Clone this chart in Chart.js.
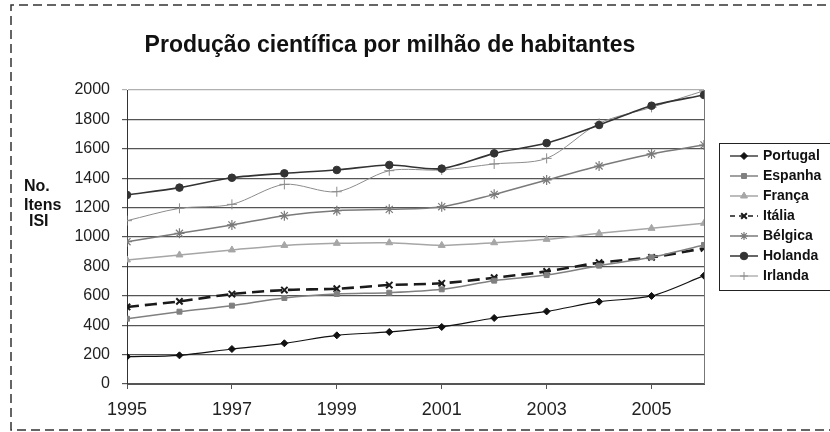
<!DOCTYPE html>
<html>
<head>
<meta charset="utf-8">
<script src="https://cdn.jsdelivr.net/npm/chart.js@4/dist/chart.umd.min.js"></script>
<style>
  html, body { margin: 0; background: #fff; }
  #wrap { width: 830px; height: 432px; }
</style>
</head>
<body>
<div id="wrap"><canvas id="chart" width="830" height="432"></canvas></div>
<script>
const years = [1995, 1996, 1997, 1998, 1999, 2000, 2001, 2002, 2003, 2004, 2005, 2006];
const xTickYears = [1995, 1997, 1999, 2001, 2003, 2005];

const portugal = [186, 195, 238, 277, 331, 354, 388, 449, 494, 560, 599, 737];
const espanha  = [444, 492, 533, 585, 612, 621, 644, 703, 741, 805, 862, 946];
const franca   = [844, 878, 912, 943, 957, 961, 943, 961, 984, 1025, 1059, 1093];
const italia   = [524, 562, 612, 639, 648, 673, 685, 723, 766, 825, 862, 923];
const belgica  = [968, 1025, 1082, 1145, 1179, 1188, 1206, 1290, 1388, 1483, 1565, 1626];
const holanda  = [1286, 1336, 1403, 1433, 1456, 1490, 1465, 1569, 1639, 1762, 1893, 1966];
const irlanda  = [1111, 1195, 1222, 1358, 1308, 1451, 1456, 1497, 1535, 1773, 1882, 1995];

const chartTitle = "Produção científica por milhão de habitantes";
const yTitle = ["No.", "Itens", "ISI"];

const FONT = '"Liberation Sans Narrow", "Arial Narrow", "Liberation Sans", Arial, sans-serif';
const FONT_WIDE = '"Liberation Sans", Arial, sans-serif';

function pts(vals) {
    return years.map((yr, i) => ({ x: yr, y: vals[i] }));
}

function series(label, vals, color, style, radius, width, dash) {
    return {
        label: label,
        data: pts(vals),
        borderColor: color,
        backgroundColor: color,
        borderWidth: width,
        borderDash: dash || [],
        pointStyle: style,
        pointRadius: radius,
        pointBorderWidth: 1,
        pointBackgroundColor: color,
        pointBorderColor: color,
        tension: 0.3,
    };
}

const datasets = [
    series("Portugal", portugal, "#111", "rectRot", 3.5, 1.2),
    series("Espanha", espanha, "#808080", "rect", 3.5, 1.5),
    series("França", franca, "#a6a6a6", "triangle", 4, 1.5),
    series("Itália", italia, "#1a1a1a", "crossRot", 4.5, 2.6, [12, 6]),
    series("Bélgica", belgica, "#7a7a7a", "star", 5, 1.5),
    series("Holanda", holanda, "#333", "circle", 3.8, 1.6),
    series("Irlanda", irlanda, "#8c8c8c", "cross", 5, 1),
];
datasets[3].pointBorderWidth = 2;
datasets[4].pointBorderWidth = 1.2;

const extras = {
    id: "extras",
    beforeDraw(chart) {
        const ctx = chart.ctx;
        ctx.save();
        ctx.strokeStyle = "#333";
        ctx.lineWidth = 1.5;
        ctx.setLineDash([9, 5]);
        ctx.beginPath();
        ctx.moveTo(840, 5);
        ctx.lineTo(11, 5);
        ctx.lineTo(11, 430);
        ctx.lineTo(840, 430);
        ctx.stroke();
        ctx.restore();
    },
    afterDraw(chart) {
        const ctx = chart.ctx;
        const a = chart.chartArea;
        ctx.save();

        // right border of plot area
        ctx.strokeStyle = "#777";
        ctx.lineWidth = 1;
        ctx.beginPath();
        ctx.moveTo(a.right + 0.5, a.top);
        ctx.lineTo(a.right + 0.5, a.bottom);
        ctx.stroke();

        // title
        ctx.fillStyle = "#111";
        ctx.font = "bold 23px " + FONT;
        ctx.textAlign = "center";
        ctx.textBaseline = "middle";
        ctx.fillText(chartTitle, 390, 46);

        // y title
        ctx.font = "bold 16px " + FONT_WIDE;
        ctx.textAlign = "left";
        ctx.fillText(yTitle[0], 24, 187);
        ctx.fillText(yTitle[1], 24, 206);
        ctx.fillText(yTitle[2], 29, 222);

        // legend
        const bx = a.right + 15, by = 143, bw = 130, bh = 147;
        ctx.strokeStyle = "#222";
        ctx.lineWidth = 1;
        ctx.strokeRect(bx + 0.5, by + 0.5, bw, bh);
        ctx.font = "bold 14px " + FONT_WIDE;
        ctx.textBaseline = "middle";
        chart.data.datasets.forEach((ds, i) => {
            const y = by + 13 + i * 20;
            ctx.strokeStyle = ds.borderColor;
            ctx.lineWidth = Math.min(ds.borderWidth, 1.5);
            ctx.setLineDash(ds.borderDash.length ? [5, 4] : []);
            ctx.beginPath();
            ctx.moveTo(bx + 11, y);
            ctx.lineTo(bx + 39, y);
            ctx.stroke();
            ctx.setLineDash([]);
            ctx.fillStyle = ds.pointBackgroundColor;
            ctx.strokeStyle = ds.pointBorderColor;
            ctx.lineWidth = ds.pointBorderWidth;
            Chart.helpers.drawPoint(ctx, {
                pointStyle: ds.pointStyle,
                radius: Math.min(ds.pointRadius, 4),
                rotation: 0,
                borderWidth: ds.pointBorderWidth,
            }, bx + 25, y);
            ctx.fillStyle = "#111";
            ctx.fillText(ds.label, bx + 44, y);
        });
        ctx.restore();
    },
};

new Chart(document.getElementById("chart"), {
    type: "line",
    data: { datasets: datasets },
    options: {
        responsive: false,
        animation: false,
        layout: { padding: { top: 90, left: 67, right: 126, bottom: 0 } },
        plugins: {
            legend: { display: false },
            title: { display: false },
            tooltip: { enabled: false },
        },
        scales: {
            x: {
                type: "linear",
                min: 1995,
                max: 2006,
                afterBuildTicks: (s) => { s.ticks = xTickYears.map((v) => ({ value: v })); },
                afterFit: (s) => { s.height = 48; },
                grid: { drawOnChartArea: false, tickLength: 5, color: "#555" },
                border: { color: "#555" },
                ticks: {
                    font: { family: FONT, size: 18 },
                    color: "#222",
                    padding: 10,
                    maxRotation: 0,
                    autoSkip: false,
                    callback: (v) => String(v),
                },
            },
            y: {
                min: 0,
                max: 2000,
                afterFit: (s) => { s.width = 60; },
                grid: {
                    tickLength: 5,
                    color: (c) => (c.tick && c.tick.value === 2000 ? "#b0b0b0" : "#555"),
                    lineWidth: 1.2,
                },
                border: { color: "#333" },
                ticks: {
                    stepSize: 200,
                    font: { family: FONT, size: 16 },
                    color: "#222",
                    padding: 12,
                    callback: (v) => String(v),
                },
            },
        },
    },
    plugins: [extras],
});
</script>
</body>
</html>
